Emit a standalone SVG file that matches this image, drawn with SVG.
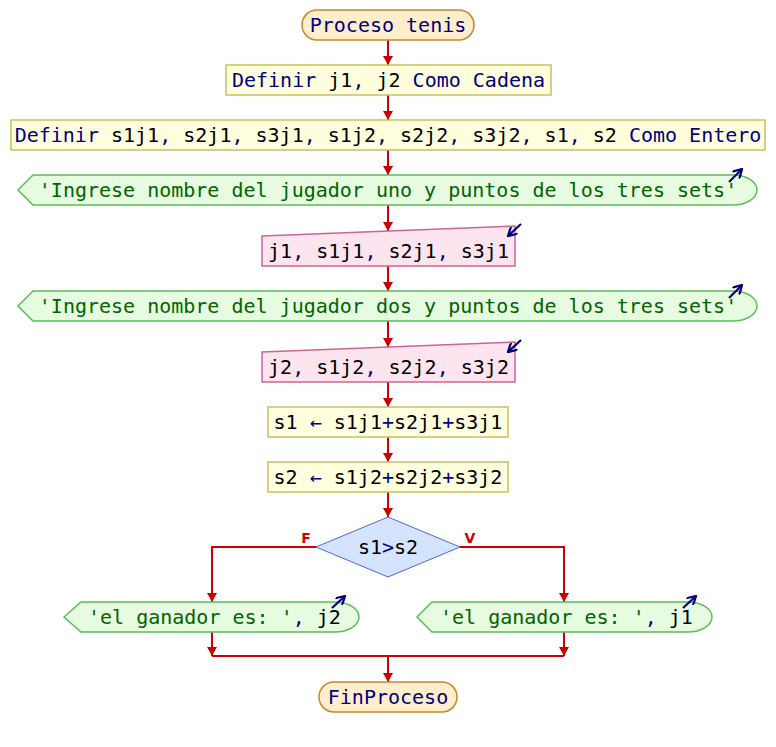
<svg xmlns="http://www.w3.org/2000/svg" width="776" height="747" viewBox="0 0 776 747">
<style>
text{font-family:"DejaVu Sans Mono","Liberation Mono",monospace;font-size:20px;fill:#000}
.c{text-anchor:middle}
.k{fill:#000080}
.s{fill:#006400}
.term{fill:#ffeecc;stroke:#c8862a;stroke-width:1.5}
.proc{fill:#ffffdd;stroke:#c8c060;stroke-width:1.5}
.out{fill:#e6fbe0;stroke:#5cbc5c;stroke-width:1.5}
.inp{fill:#fde4ee;stroke:#cc6690;stroke-width:1.5}
.dec{fill:#d4e4ff;stroke:#4a6ad0;stroke-width:1}
.ln{fill:none;stroke:#cc0000;stroke-width:2}
.ic{fill:none;stroke:#000080;stroke-width:2.2}
.lbl{font-family:"DejaVu Sans","Liberation Sans",sans-serif;font-size:14px;font-weight:bold;fill:#cc0000}
</style>
<defs>
<marker id="ar" markerUnits="userSpaceOnUse" markerWidth="12" markerHeight="12" refX="9" refY="5" orient="auto" viewBox="0 0 12 10">
<path d="M0,0 L9,5 L0,10 Z" fill="#cc0000"/>
</marker>
<marker id="ai" markerUnits="userSpaceOnUse" markerWidth="10" markerHeight="10" refX="7" refY="4" orient="auto" viewBox="0 0 8 8">
<path d="M0,0 L7,4 L0,8" fill="none" stroke="#000080" stroke-width="1.8"/>
</marker>
</defs>

<g id="connectors">
<path class="ln" marker-end="url(#ar)" d="M388,40 V65"/>
<path class="ln" marker-end="url(#ar)" d="M388,95 V120"/>
<path class="ln" marker-end="url(#ar)" d="M388,150 V175"/>
<path class="ln" marker-end="url(#ar)" d="M388,205 V231"/>
<path class="ln" marker-end="url(#ar)" d="M388,266 V291"/>
<path class="ln" marker-end="url(#ar)" d="M388,321 V347"/>
<path class="ln" marker-end="url(#ar)" d="M388,382 V407"/>
<path class="ln" marker-end="url(#ar)" d="M388,437 V462"/>
<path class="ln" marker-end="url(#ar)" d="M388,492 V517"/>
<path class="ln" marker-end="url(#ar)" d="M316,547 H212 V602"/>
<path class="ln" marker-end="url(#ar)" d="M460,547 H564 V602"/>
<path class="ln" marker-end="url(#ar)" d="M212,632 V656"/>
<path class="ln" marker-end="url(#ar)" d="M564,632 V656"/>
<path class="ln" d="M212,656 H564"/>
<path class="ln" marker-end="url(#ar)" d="M388,656 V682"/>
<text class="lbl" x="306" y="543" text-anchor="middle">F</text>
<text class="lbl" x="470" y="543" text-anchor="middle">V</text>
</g>

<g id="start">
<rect class="term" x="302" y="10" width="172" height="30" rx="15" ry="15"/>
<text class="c k" x="388" y="32">Proceso tenis</text>
</g>

<g id="def1">
<rect class="proc" x="226" y="65" width="325" height="30"/>
<text class="c" x="388.5" y="87"><tspan class="k">Definir</tspan> j1<tspan class="k">,</tspan> j2 <tspan class="k">Como Cadena</tspan></text>
</g>

<g id="def2">
<rect class="proc" x="11" y="120" width="754" height="30"/>
<text class="c" x="388" y="142"><tspan class="k">Definir</tspan> s1j1<tspan class="k">,</tspan> s2j1<tspan class="k">,</tspan> s3j1<tspan class="k">,</tspan> s1j2<tspan class="k">,</tspan> s2j2<tspan class="k">,</tspan> s3j2<tspan class="k">,</tspan> s1<tspan class="k">,</tspan> s2 <tspan class="k">Como Entero</tspan></text>
</g>

<g id="out1">
<path class="out" d="M18,190 L33,175 H733 A24,15 0 0 1 733,205 H33 Z"/>
<text class="c s" x="388" y="197">'Ingrese nombre del jugador uno y puntos de los tres sets'</text>
<path class="ic" marker-end="url(#ai)" d="M729,182 L742,169"/>
</g>

<g id="in1">
<path class="inp" d="M262,236 L515,226 V266 H262 Z"/>
<text class="c" x="388.5" y="258">j1<tspan class="k">,</tspan> s1j1<tspan class="k">,</tspan> s2j1<tspan class="k">,</tspan> s3j1</text>
<path class="ic" marker-end="url(#ai)" d="M521,224 L508,236"/>
</g>

<g id="out2">
<path class="out" d="M18,306 L33,291 H733 A24,15 0 0 1 733,321 H33 Z"/>
<text class="c s" x="388" y="313">'Ingrese nombre del jugador dos y puntos de los tres sets'</text>
<path class="ic" marker-end="url(#ai)" d="M729,298 L742,285"/>
</g>

<g id="in2">
<path class="inp" d="M262,352 L515,342 V382 H262 Z"/>
<text class="c" x="388.5" y="374">j2<tspan class="k">,</tspan> s1j2<tspan class="k">,</tspan> s2j2<tspan class="k">,</tspan> s3j2</text>
<path class="ic" marker-end="url(#ai)" d="M521,340 L508,352"/>
</g>

<g id="assign1">
<rect class="proc" x="268" y="407" width="240" height="30"/>
<text class="c" x="388" y="429">s1 <tspan class="k">←</tspan> s1j1<tspan class="k">+</tspan>s2j1<tspan class="k">+</tspan>s3j1</text>
</g>

<g id="assign2">
<rect class="proc" x="268" y="462" width="240" height="30"/>
<text class="c" x="388" y="484">s2 <tspan class="k">←</tspan> s1j2<tspan class="k">+</tspan>s2j2<tspan class="k">+</tspan>s3j2</text>
</g>

<g id="cond">
<path class="dec" d="M388,517 L460,547 L388,577 L316,547 Z"/>
<text class="c" x="388" y="554">s1<tspan class="k">&gt;</tspan>s2</text>
</g>

<g id="outF">
<path class="out" d="M64,617 L81,602 H335 A24,15 0 0 1 335,632 H81 Z"/>
<text x="88" y="624"><tspan class="s">'el ganador es: '</tspan><tspan class="k">,</tspan> j2</text>
<path class="ic" marker-end="url(#ai)" d="M332,608 L345,596"/>
</g>

<g id="outV">
<path class="out" d="M417,617 L432,602 H688 A24,15 0 0 1 688,632 H432 Z"/>
<text x="440" y="624"><tspan class="s">'el ganador es: '</tspan><tspan class="k">,</tspan> j1</text>
<path class="ic" marker-end="url(#ai)" d="M683,608 L696,596"/>
</g>

<g id="end">
<rect class="term" x="319" y="682" width="138" height="30" rx="15" ry="15"/>
<text class="c k" x="388" y="704">FinProceso</text>
</g>
</svg>
